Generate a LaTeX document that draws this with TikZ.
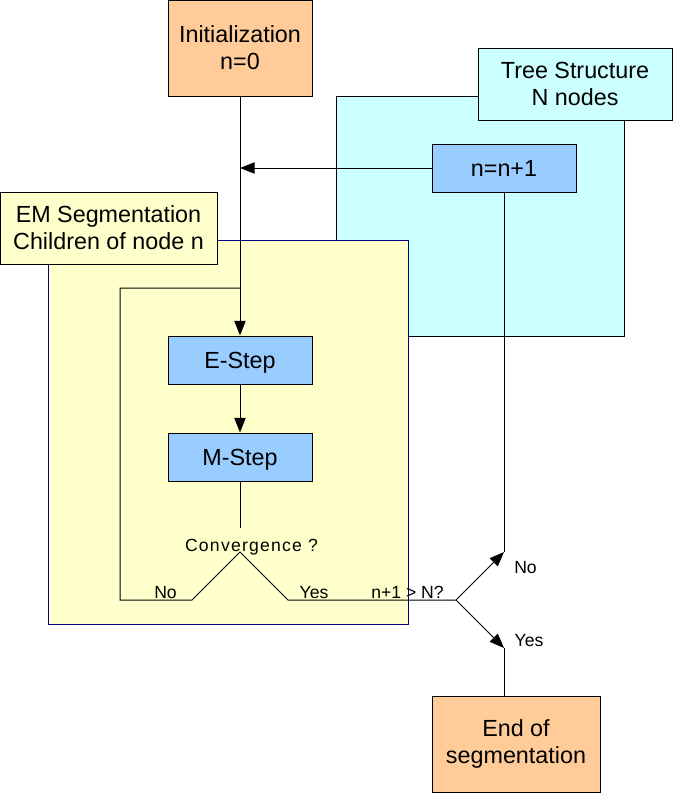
\documentclass[tikz,border=0pt]{standalone}
\usepackage{fontspec}
\setmainfont{Liberation Sans}
\usetikzlibrary{arrows.meta, positioning}

\definecolor{initorange}{HTML}{FFCC99}
\definecolor{treecyan}{HTML}{CCFFFF}
\definecolor{stepblue}{HTML}{99CCFF}
\definecolor{emyellow}{HTML}{FFFFCC}
\definecolor{emborder}{HTML}{000080}
\newcommand{\boxfont}{\fontsize{17.5}{20.25}\selectfont}
\newcommand{\lblfont}{\fontsize{13.2}{15}\selectfont}

\begin{document}
\begin{tikzpicture}[
  x=0.75pt, y=-0.75pt,
  node distance=36pt,
  box/.style={rectangle, draw=black, line width=0.75pt, align=center,
              inner sep=0pt, font=\boxfont},
  orangebox/.style={box, fill=initorange, minimum width=108pt, minimum height=72pt},
  bluebox/.style={box, fill=stepblue, minimum width=108pt, minimum height=36pt,
              text height=12.5pt, text depth=0pt},
  treebox/.style={box, fill=treecyan, minimum width=145.5pt, minimum height=54pt},
  embox/.style={box, fill=emyellow, minimum width=162.75pt, minimum height=54pt},
  treeframe/.style={rectangle, draw=black, line width=0.75pt, fill=treecyan,
              inner sep=0pt, minimum width=216pt, minimum height=180pt},
  emframe/.style={rectangle, draw=emborder, line width=0.75pt, fill=emyellow,
              inner sep=0pt, minimum width=270pt, minimum height=288pt},
  lbl/.style={font=\lblfont, anchor=base, inner sep=0pt},
  arrow/.style={-{Triangle[length=11pt,width=8.5pt]}, line width=0.75pt},
  plain/.style={line width=0.75pt}
]
\useasboundingbox (0,0) rectangle (674,794);

% frames
\node[treeframe] (tree) at (480,216) {};
\node[treebox] (treelabel) at (575,84) {Tree Structure\\N nodes};
\node[emframe] (em) at (228,432) {};
\node[embox] (emlabel) at (108.5,228) {EM Segmentation\\Children of node n};

% boxes
\node[orangebox] (init) at (240,48) {Initialization\\n=0};
\node[bluebox] (inc) at (504,168) {n=n+1};
\node[bluebox] (estep) at (240,360) {E-Step};
\node[bluebox, below=of estep] (mstep) {M-Step};
\node[orangebox, minimum width=126pt] (end) at (516,744) {End of\\segmentation};

% bends
\coordinate (incjoin) at (240,168);
\coordinate (convtop) at (240,528);
\coordinate (conv) at (240,552);
\coordinate (nobend) at (192,600);
\coordinate (nocorner) at (120,600);
\coordinate (loopcorner) at (120,288);
\coordinate (loopjoin) at (240,288);
\coordinate (yesbend) at (288,600);
\coordinate (test) at (456,600);
\coordinate (testno) at (504,552);
\coordinate (testyes) at (504,648);

\draw[arrow] (init) -- (estep);
\draw[arrow] (inc) -- (incjoin);
\draw[arrow] (estep) -- (mstep);
\draw[plain] (mstep) -- (convtop);
\draw[plain] (loopjoin) -- (loopcorner) -- (nocorner) -- (nobend) -- (conv) -- (yesbend) -- (test);
\draw[arrow] (test) -- (testno);
\draw[arrow] (test) -- (testyes);
\draw[plain] (inc) -- (testno);
\draw[plain] (testyes) -- (testyes |- end.north);

% labels
\node[lbl] (convlbl) at (251.5,551) {\addfontfeature{LetterSpace=7}Convergence ?};
\node[lbl] (nolbl) at (165.5,598) {No};
\node[lbl] (yeslbl) at (314,598) {Yes};
\node[lbl] (testlbl) at (407.5,598) {n+1 > N?};
\node[lbl] (testnolbl) at (525.5,573) {No};
\node[lbl] (testyeslbl) at (529,646) {Yes};
\end{tikzpicture}
\end{document}
